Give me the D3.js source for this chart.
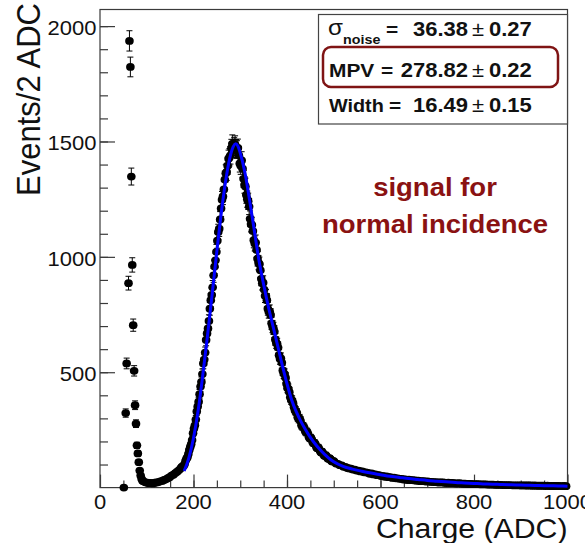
<!DOCTYPE html>
<html>
<head>
<meta charset="utf-8">
<script src="https://cdn.jsdelivr.net/npm/d3@7"></script>
<style>
  body { margin: 0; background: #fff; }
  svg { display: block; }
  text { font-family: "Liberation Sans", Arial, Helvetica, sans-serif; }
</style>
</head>
<body>
<svg id="drawing_region"></svg>
<script>
// noise (pedestal) bins, read one by one
const noiseCharge = [51, 55, 57, 61, 63, 65, 67, 69, 71, 73, 75, 77, 79, 81, 83, 85, 87, 89, 91];
const noiseCounts = [0, 323, 538, 886, 1936, 1823, 1348, 965, 704, 506, 357, 277, 183, 148, 110, 74, 52, 38, 30];

// signal spectrum, every second 2-ADC bin from 93 to 997
const signalCharge = d3.range(93, 1000, 4);
const signalCounts = [
    27, 23, 21, 19, 20, 18, 21, 22, 24, 27,
    29, 33, 36, 41, 45, 52, 56, 63, 69, 76,
    84, 92, 102, 125, 146, 176, 206, 256, 295, 352,
    405, 458, 538, 585, 668, 722, 812, 868, 958, 1022,
    1108, 1162, 1248, 1292, 1362, 1395, 1432, 1471, 1468, 1486,
    1465, 1440, 1395, 1382, 1312, 1268, 1241, 1165, 1138, 1072,
    1062, 992, 968, 905, 888, 831, 812, 762, 748, 698,
    676, 628, 607, 558, 541, 495, 476, 432, 414, 380,
    366, 334, 324, 298, 289, 265, 259, 240, 233, 214,
    209, 192, 187, 171, 166, 152, 149, 137, 135, 124,
    123, 113, 112, 104, 103, 97, 96, 90, 90, 85,
    83, 82, 78, 78, 74, 74, 70, 70, 66, 66,
    64, 60, 61, 57, 57, 54, 54, 50, 51, 47,
    48, 45, 45, 42, 43, 40, 40, 38, 38, 35,
    36, 33, 34, 32, 32, 31, 30, 30, 28, 28,
    28, 26, 27, 25, 25, 24, 24, 23, 22, 23,
    22, 21, 20, 21, 19, 20, 19, 18, 18, 19,
    17, 17, 17, 16, 16, 16, 15, 15, 15, 15,
    14, 14, 14, 14, 13, 13, 13, 13, 12, 12,
    12, 12, 11, 11, 11, 11, 11, 10, 10, 10,
    10, 10, 9, 10, 9, 9, 9, 9, 8, 9,
    8, 8, 8, 8, 8, 7, 8, 7, 7, 7,
    7, 7, 7, 6, 6, 7, 6
];

// the other 2-ADC bins on the steep part, 175 to 499
const steepCharge = d3.range(175, 500, 4);
const steepCounts = [
    90, 95, 116, 132, 163, 188, 236, 270, 330, 372,
    438, 492, 555, 640, 690, 775, 835, 920, 985, 1070,
    1122, 1210, 1262, 1335, 1368, 1425, 1440, 1490, 1478, 1470,
    1472, 1405, 1418, 1338, 1305, 1250, 1218, 1142, 1112, 1058,
    1030, 975, 942, 886, 858, 830, 775, 764, 712, 690,
    642, 622, 574, 560, 508, 492, 450, 428, 392, 378,
    348, 332, 305, 300, 270, 266, 244, 242, 218, 216,
    196, 194, 175, 174, 158, 156, 140, 141, 127, 128,
    115, 116
];

// Landau (x) Gauss fit
const fitCharge = [180, 190, 200, 210, 220, 230, 240, 250, 260, 270, 280, 285, 290, 295, 300,
    310, 320, 330, 340, 350, 360, 370, 380, 390, 400, 410, 420, 430, 440, 450, 460, 470, 480, 490, 500,
    520, 540, 560, 580, 600, 620, 640, 660, 680, 700, 720, 740, 760, 780, 800,
    820, 840, 860, 880, 900, 920, 940, 960, 980, 1000];
const fitValues = [72, 128, 215, 335, 490, 660, 840, 1025, 1200, 1345, 1448, 1478, 1490, 1480, 1450,
    1365, 1245, 1115, 985, 880, 785, 700, 615, 530, 450, 380, 328, 286, 250, 218, 190, 166, 145, 127, 112,
    92, 80, 71, 63, 56, 49, 44, 39, 35, 31, 28, 25, 22, 20, 18,
    16, 15, 13, 12, 11, 10, 9, 8, 7, 6];

const xTicks = [0, 200, 400, 600, 800, 1000];
const yTicks = [500, 1000, 1500, 2000];

const statLabels = ['σ', 'MPV', 'Width'];
const statValues = ['36.38', '278.82', '16.49'];
const statErrors = ['0.27', '0.22', '0.15'];

const noteLines = ['signal for', 'normal incidence'];

class SpectrumPlot {

    constructor( config ) {
        this.config = {
            parent: config.parent,
            width: config.width || 585,
            height: config.height || 543,
            stretch: 1.1
        };
        this.points = noiseCharge.map( (c, i) => ({ x: c, y: noiseCounts[i] }) )
            .concat( signalCharge.map( (c, i) => ({ x: c, y: signalCounts[i] }) ) )
            .concat( steepCharge.map( (c, i) => ({ x: c, y: steepCounts[i] }) ) );
        this.fit = fitCharge.map( (c, i) => ({ x: c, y: fitValues[i] }) );
        this.init();
    }

    init() {
        let self = this;

        self.svg = d3.select( self.config.parent )
            .attr('width', self.config.width)
            .attr('height', self.config.height);

        self.svg.append('rect')
            .attr('width', self.config.width)
            .attr('height', self.config.height)
            .attr('fill', '#fff');

        self.xscale = d3.scaleLinear().domain([0, 1000]).range([100, 567.5]);
        self.yscale = d3.scaleLinear().domain([0, 2072]).range([487.6, 9.5]);
    }

    update() {
        let self = this;
        self.render();
    }

    // text stretched like the original picture (wider than tall)
    label( x, y, str, size, opts ) {
        let self = this;
        opts = opts || {};
        let g = self.svg.append('g')
            .attr('transform', `translate(${x},${y}) scale(${self.config.stretch},1)` + (opts.rotate ? ` rotate(${opts.rotate})` : ''));
        return g.append('text')
            .attr('text-anchor', opts.anchor || 'start')
            .attr('font-size', size)
            .attr('font-weight', opts.bold ? 'bold' : 'normal')
            .attr('fill', opts.color || '#111')
            .text(str);
    }

    render() {
        let self = this;
        const x = self.xscale, y = self.yscale;
        const axisColor = '#3a3a3a';
        const [x0, x1] = x.range();
        const [y0, y1] = y.range();

        // frame
        self.svg.append('rect')
            .attr('x', x0).attr('y', y1)
            .attr('width', x1 - x0).attr('height', y0 - y1)
            .attr('fill', 'none')
            .attr('stroke', axisColor)
            .attr('stroke-width', 1.2);

        // ticks
        const yMajor = self.svg.append('g').attr('transform', `translate(${x0},0)`)
            .call( d3.axisLeft(y).tickValues(yTicks).tickSize(-15).tickSizeOuter(0).tickFormat('') );
        const yMinor = self.svg.append('g').attr('transform', `translate(${x0},0)`)
            .call( d3.axisLeft(y).tickValues(d3.range(100, 2072, 100)).tickSize(-8).tickSizeOuter(0).tickFormat('') );
        const xMajor = self.svg.append('g').attr('transform', `translate(0,${y0})`)
            .call( d3.axisBottom(x).tickValues(xTicks).tickSize(-13).tickSizeOuter(0).tickFormat('') );
        const xMinor = self.svg.append('g').attr('transform', `translate(0,${y0})`)
            .call( d3.axisBottom(x).tickValues(d3.range(50, 1000, 50)).tickSize(-7).tickSizeOuter(0).tickFormat('') );
        [yMajor, yMinor, xMajor, xMinor].forEach( g => {
            g.select('.domain').remove();
            g.selectAll('line').attr('stroke', axisColor).attr('stroke-width', 1.2);
        });

        // tick labels
        yTicks.forEach( v => self.label(96.5, y(v) + 9, v, 20, { anchor: 'end' }) );
        xTicks.forEach( v => self.label(x(v), 508.5, v, 20, { anchor: 'middle' }) );

        // axis titles
        self.label(567.5, 538, 'Charge (ADC)', 27.5, { anchor: 'end' });
        self.label(39.5, 3, 'Events/2 ADC', 31, { anchor: 'end', rotate: -90 });

        // error bars
        const bars = self.svg.append('g')
            .attr('stroke', '#000')
            .attr('stroke-width', 1);
        self.points.forEach( d => {
            const e = Math.sqrt(d.y);
            if (e === 0) return;
            const cx = x(d.x), top = y(d.y + e), bot = y(d.y - e);
            bars.append('line').attr('x1', cx).attr('x2', cx).attr('y1', top).attr('y2', bot);
            bars.append('line').attr('x1', cx - 3).attr('x2', cx + 3).attr('y1', top).attr('y2', top);
            bars.append('line').attr('x1', cx - 3).attr('x2', cx + 3).attr('y1', bot).attr('y2', bot);
        });

        // markers
        self.svg.append('g')
            .selectAll('ellipse')
            .data(self.points)
            .enter()
            .append('ellipse')
            .attr('cx', d => x(d.x))
            .attr('cy', d => y(d.y))
            .attr('rx', 4.3)
            .attr('ry', 3.9)
            .attr('fill', '#000');

        // fit
        const line = d3.line()
            .x(d => x(d.x))
            .y(d => y(d.y))
            .curve(d3.curveMonotoneX);
        self.svg.append('path')
            .attr('d', line(self.fit))
            .attr('fill', 'none')
            .attr('stroke', '#0000ff')
            .attr('stroke-width', 3);

        // stats box
        self.svg.append('rect')
            .attr('x', 318.5).attr('y', 14.5)
            .attr('width', 249).attr('height', 109.5)
            .attr('fill', '#fff')
            .attr('stroke', '#444')
            .attr('stroke-width', 1.2);

        const rowY = [36, 77, 112];
        const eqX = [386, 381, 389];
        statLabels.forEach( (lab, i) => {
            if (i === 0) {
                self.label(328, rowY[i] - 1, lab, 22, {});
                self.label(343, rowY[i] + 8, 'noise', 13, { bold: true });
                self.label(eqX[i], rowY[i], '=', 19, { bold: true });
            } else {
                self.label(329, rowY[i], lab, i === 2 ? 18 : 19, { bold: true });
                self.label(eqX[i], rowY[i], '=', 19, { bold: true });
            }
            self.label(468, rowY[i], statValues[i], 20, { bold: true, anchor: 'end' });
            self.label(478, rowY[i], '±', 20, { anchor: 'middle' });
            self.label(489, rowY[i], statErrors[i], 20, { bold: true });
        });

        // highlight around MPV
        self.svg.append('rect')
            .attr('x', 323).attr('y', 47)
            .attr('width', 235).attr('height', 40)
            .attr('rx', 8).attr('ry', 8)
            .attr('fill', 'none')
            .attr('stroke', '#7f1414')
            .attr('stroke-width', 2.5);

        // note
        const noteY = [196, 233];
        noteLines.forEach( (t, i) => {
            self.label(435, noteY[i], t, 25, { bold: true, anchor: 'middle', color: '#8a1212' });
        });
    }
}

var config = {
    parent: '#drawing_region',
    width: 585,
    height: 543
};

const plot = new SpectrumPlot( config );
plot.update();
</script>
</body>
</html>
